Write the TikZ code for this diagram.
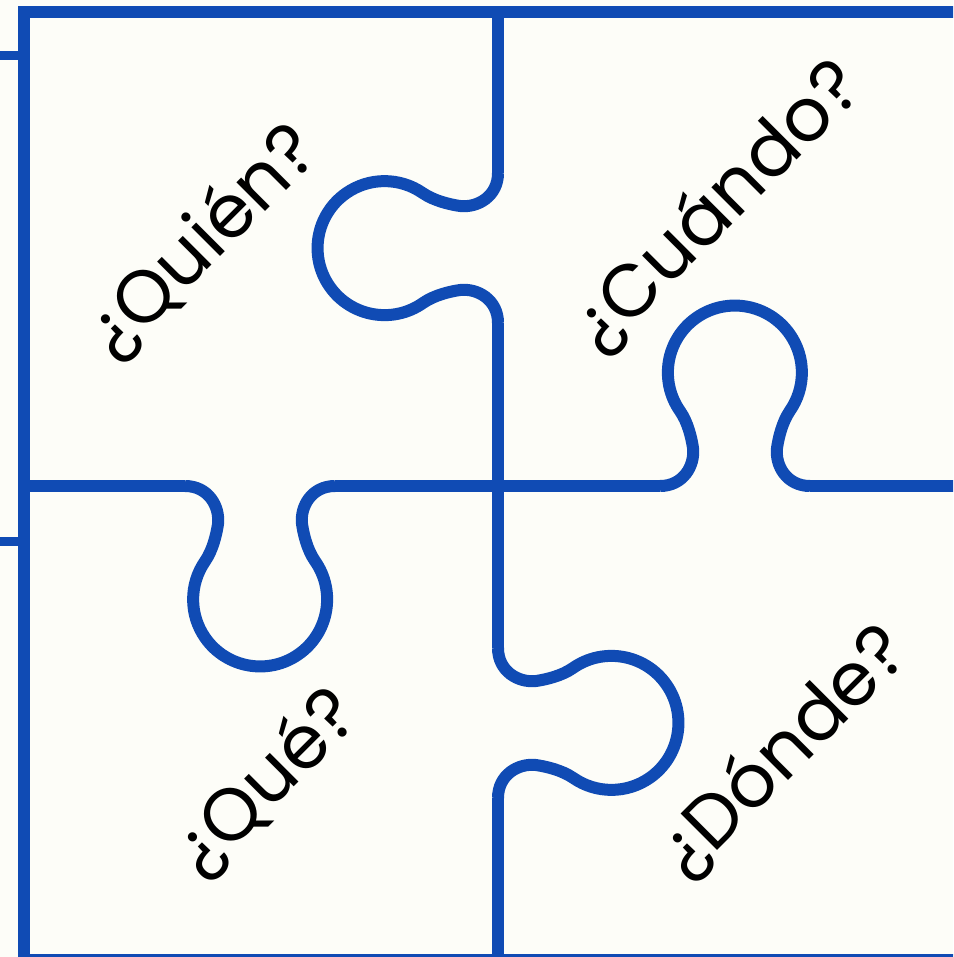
\documentclass[tikz,border=0pt]{standalone}
\usepackage{fontspec}
\setmainfont{Poppins}
\usepackage{xcolor}

\definecolor{puzzleblue}{HTML}{104BB4}
\definecolor{paper}{HTML}{FDFDF8}

\begin{document}
\begin{tikzpicture}[
    x = 0.5pt,
    y = 0.5pt,
    edge/.style = {draw=puzzleblue, line width=6pt},
    stub/.style = {draw=puzzleblue, line width=4.5pt},
    question/.style = {rotate=45, text=black, font=\fontsize{37}{44}\selectfont},
    knob/.pic = {
        \draw[edge] (-75,0) .. controls (-52,0) and (-40,20) .. (-42,38)
            .. controls (-43.5,48) and (-47,63.5) .. (-55,75)
            arc (215:-35:67)
            .. controls (47,63.5) and (43.5,48) .. (42,38)
            .. controls (40,20) and (52,0) .. (75,0);
    }
]
    \path[use as bounding box] (0,0) rectangle (953,-957);
    \fill[paper] (0,0) rectangle (953,-957);
    \clip (0,0) rectangle (953,-957);

    % frame and stubs
    \draw[edge] (24,-12) rectangle (972,-960);
    \draw[stub] (0,-56) -- (24,-56);
    \draw[stub] (0,-541) -- (24,-541);

    % vertical seam
    \draw[edge] (498,-12) -- (498,-173);
    \pic (kleft) [rotate=90] at (498,-248) {knob};
    \draw[edge] (498,-323) -- (498,-648);
    \pic (kright) [rotate=-90] at (498,-723) {knob};
    \draw[edge] (498,-798) -- (498,-960);

    % horizontal seam
    \draw[edge] (24,-486) -- (185,-486);
    \pic (kdown) [rotate=180] at (260,-486) {knob};
    \draw[edge] (335,-486) -- (660,-486);
    \pic (kup) at (735,-486) {knob};
    \draw[edge] (810,-486) -- (972,-486);

    \node[question] (quien) at (202,-242) {¿Quién?};
    \node[question] (cuando) at (717,-207) {¿Cuándo?};
    \node[question] (que) at (266,-783) {¿Qué?};
    \node[question] (donde) at (783,-752) {¿Dónde?};
\end{tikzpicture}
\end{document}
